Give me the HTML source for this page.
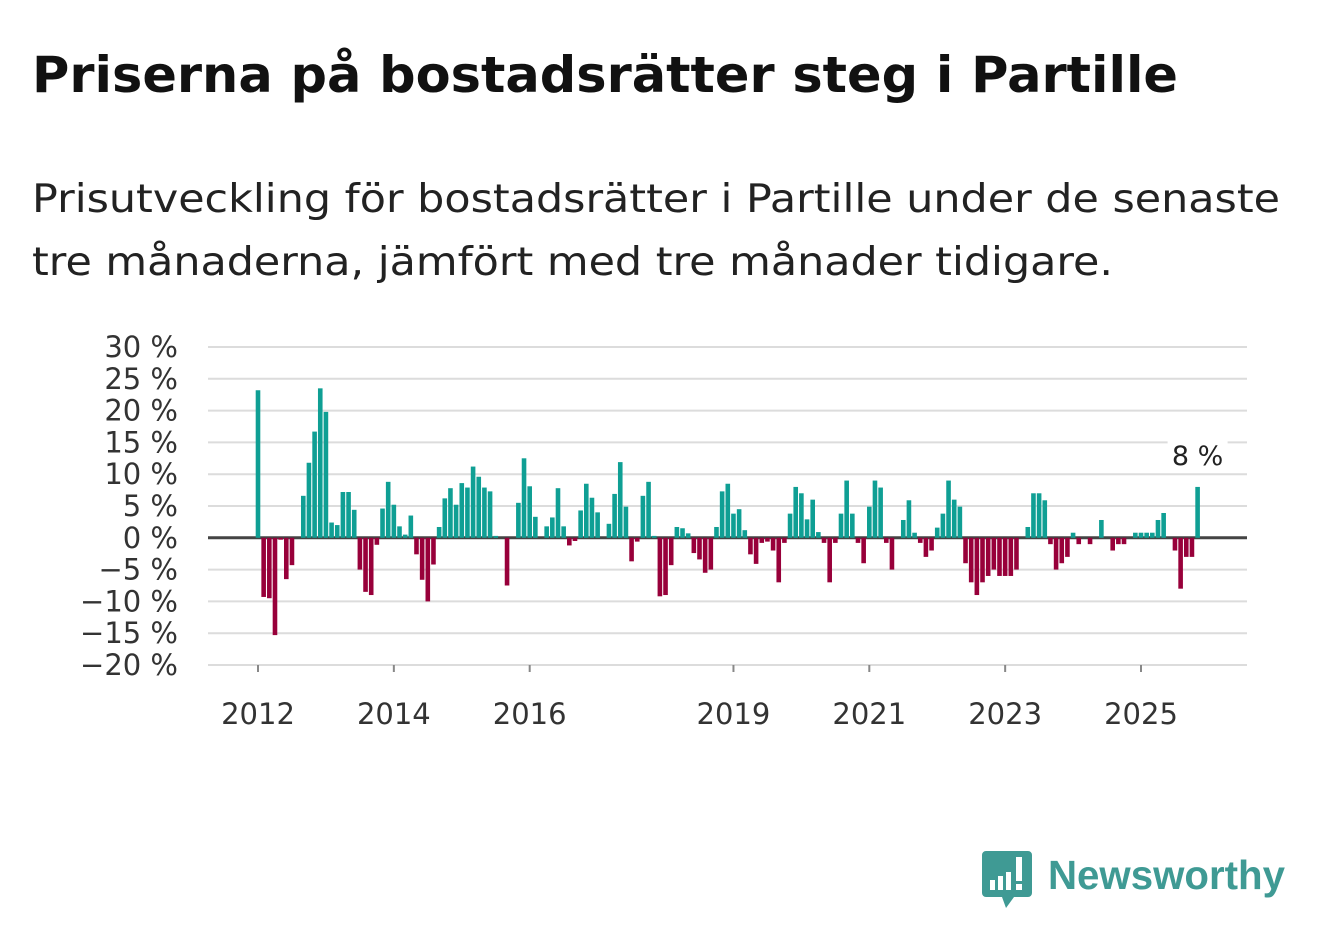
<!DOCTYPE html>
<html><head><meta charset="utf-8"><style>
body{margin:0;background:#fff;width:1322px;height:939px;overflow:hidden;font-family:"DejaVu Sans","Liberation Sans",sans-serif;}
svg{position:absolute;left:0;top:0;}
</style></head><body>
<svg id="chart" width="1322" height="939" font-family="DejaVu Sans, Liberation Sans, sans-serif">
<text x="32" y="92" font-size="50" font-weight="bold" fill="#111" textLength="1146" lengthAdjust="spacingAndGlyphs">Priserna på bostadsrätter steg i Partille</text>
<g>
<text x="32" y="212" font-size="39" fill="#222" textLength="1248" lengthAdjust="spacingAndGlyphs">Prisutveckling för bostadsrätter i Partille under de senaste</text>
<text x="32" y="275" font-size="39" fill="#222" textLength="1081" lengthAdjust="spacingAndGlyphs">tre månaderna, jämfört med tre månader tidigare.</text>
</g>
<g id="grid"></g>
<g id="bars"></g>
<g id="ylab"></g>
<g id="xlab"></g>
<g id="ann"></g>
<g>
<path d="M986 851 h42 a4 4 0 0 1 4 4 v38 a4 4 0 0 1 -4 4 h-14 l-8 11 l-4 -11 h-16 a4 4 0 0 1 -4 -4 v-38 a4 4 0 0 1 4 -4z" fill="#3f9a94"/>
<rect x="990" y="880" width="5" height="10" fill="#fff"/><rect x="998" y="876" width="5" height="14" fill="#fff"/><rect x="1006" y="872" width="5" height="18" fill="#fff"/><rect x="1016" y="857" width="6" height="24" fill="#fff"/><rect x="1016" y="884" width="6" height="6" fill="#fff"/>
<text x="1048" y="889" font-size="41" font-weight="bold" fill="#3f9a94" font-family="Liberation Sans, sans-serif" textLength="237" lengthAdjust="spacingAndGlyphs">Newsworthy</text>
</g>
</svg>
<script>
const values=[23.2,-9.3,-9.5,-15.3,-0.3,-6.5,-4.3,0,6.6,11.8,16.7,23.5,19.8,2.4,2.0,7.2,7.2,4.4,-5,-8.5,-9,-1.1,4.6,8.8,5.2,1.8,0.5,3.5,-2.6,-6.6,-10,-4.2,1.7,6.2,7.8,5.2,8.6,7.9,11.2,9.6,7.9,7.3,0.3,0,-7.5,0,5.5,12.5,8.1,3.3,0,1.8,3.2,7.8,1.8,-1.2,-0.5,4.3,8.5,6.3,4.0,0,2.2,6.9,11.9,4.9,-3.7,-0.6,6.6,8.8,0.3,-9.2,-9,-4.3,1.7,1.5,0.7,-2.4,-3.4,-5.5,-5,1.7,7.3,8.5,3.8,4.5,1.2,-2.6,-4.1,-0.8,-0.6,-2.0,-7,-0.8,3.8,8,7,2.9,6,0.9,-0.8,-7,-0.8,3.8,9,3.8,-0.8,-4,4.9,9,7.9,-0.8,-5,0,2.8,5.9,0.8,-0.8,-3,-2,1.6,3.8,9,6,4.9,-4,-7,-9,-7,-6,-5,-6,-6,-6,-5,0,1.7,7,7,5.9,-1,-5,-4,-3,0.8,-1,0,-1,0,2.8,0,-2,-1,-1,0,0.8,0.8,0.8,0.8,2.8,3.9,0,-2,-8,-3,-3,8];
const yTicks=[30,25,20,15,10,5,0,-5,-10,-15,-20];
const xYears=[2012,2014,2016,2019,2021,2023,2025];
const startYear=2012;
const NS='http://www.w3.org/2000/svg';
const y=v=>537.8-v*6.36;
const x=i=>258+i*(1141-258)/156;
function mk(t,a,p){const e=document.createElementNS(NS,t);for(const k in a)e.setAttribute(k,a[k]);p.appendChild(e);return e;}
const grid=document.getElementById('grid'),ylab=document.getElementById('ylab');
yTicks.forEach(v=>{
 if(v!==0){const l=mk('line',{x1:208,x2:1247,y1:y(v),y2:y(v),stroke:'#dcdcdc','stroke-width':2},grid);
 
 }
 const t=mk('text',{x:178,y:y(v)+10,'text-anchor':'end','font-size':29,fill:'#333'},ylab);
 t.textContent=(v<0?'\u2212'+(-v):v)+' %';
 
 
});
const bars=document.getElementById('bars');
values.forEach((v,i)=>{if(v===0)return;
 const r=mk('rect',{x:x(i)-2.3,width:4.6,y:Math.min(y(v),y(0)),height:Math.abs(y(v)-y(0)),fill:v>0?'#0f9f94':'#98003a'},bars);
 
 
});
const zl=mk('line',{x1:208,x2:1247,y1:y(0),y2:y(0),stroke:'#444','stroke-width':3},grid);


const xlab=document.getElementById('xlab');
xYears.forEach(yr=>{const xi=x((yr-startYear)*12);
 const tk=mk('line',{x1:xi,x2:xi,y1:665,y2:672,stroke:'#888','stroke-width':2},xlab);
 
 
 const t=mk('text',{x:xi,y:724,'text-anchor':'middle','font-size':29,fill:'#333'},xlab);
 t.textContent=yr;
 
 
});
const last=values.length-1,ann=document.getElementById('ann');
const bg=mk('rect',{x:x(last)-30,y:437,width:60,height:34,fill:'#fff'},ann);


const at=mk('text',{x:x(last),y:465,'text-anchor':'middle','font-size':27,fill:'#222'},ann);
at.textContent=Math.round(values[last])+' %';


</script>
</body></html>
